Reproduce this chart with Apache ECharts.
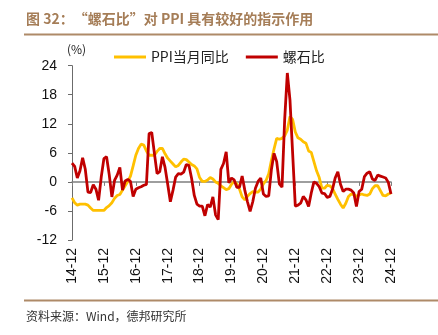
<!DOCTYPE html>
<html><head><meta charset="utf-8">
<script src="https://cdn.jsdelivr.net/npm/echarts@6/dist/echarts.min.js"></script>
<style>html,body{margin:0;padding:0;background:#fff}#c{width:438px;height:335px}</style>
</head><body><div id="c"></div>
<script>
// ---- data ----
var startYear = 2014, startMonth = 12, monthCount = 121;
var categories = [];
(function(){ var y = startYear, m = startMonth; for (var i = 0; i < monthCount; i++) { categories.push(String(y % 100).padStart(2,'0') + '-' + String(m).padStart(2,'0')); m++; if (m > 12) { m = 1; y++; } } })();

var ppiYoY = [
  -3.3,
  -4.3,-4.8,-4.6,-4.6,-4.6,-4.8,-5.4,-5.9,-5.9,-5.9,-5.9,-5.9,
  -5.3,-4.9,-4.3,-3.4,-2.8,-2.6,-1.7,-0.8,0.1,1.2,3.3,5.5,
  6.9,7.8,7.6,6.4,5.5,5.5,5.5,6.3,6.9,6.9,5.8,4.9,
  4.3,3.7,3.1,3.4,4.1,4.7,4.6,4.1,3.6,3.3,2.7,0.9,
  0.1,0.1,0.4,0.9,0.6,0.0,-0.3,-0.8,-1.2,-1.6,-1.4,-0.5,
  0.1,-0.4,-1.5,-3.1,-3.7,-3.0,-2.4,-2.0,-2.1,-2.1,-1.5,-0.4,
  0.3,1.7,4.4,6.8,9.0,8.8,9.0,9.5,10.7,13.5,12.9,10.3,
  9.1,8.8,8.3,8.0,6.4,6.1,4.2,2.3,0.9,-1.3,-1.3,-0.7,
  -0.8,-1.4,-2.5,-3.6,-4.6,-5.4,-4.4,-3.0,-2.5,-2.6,-3.0,-2.7,
  -2.5,-2.7,-2.8,-2.5,-1.4,-0.8,-0.8,-1.8,-2.8,-2.9,-2.5,-2.3
];
var rebarOreRatio = [
  3.9,
  3.2,0.8,2.3,5.0,2.6,-2.1,-2.2,-0.6,-1.5,-3.8,1.0,4.8,
  5.2,1.5,-3.1,0.3,1.4,3.0,-1.7,0.2,0.5,0.1,-3.0,-1.5,
  -1.2,-1.0,-0.7,-0.5,10.0,10.2,5.9,1.7,2.1,5.2,3.0,-0.5,
  -4.1,-1.7,1.0,1.7,1.6,2.0,3.6,3.4,0.7,-2.8,-4.6,-5.0,
  -5.0,-7.0,-4.7,-5.2,-3.1,-6.8,-7.8,2.6,3.8,6.2,-0.2,0.8,
  0.4,-1.1,-1.1,1.2,-1.7,-4.1,-6.1,-4.1,-1.3,0.1,0.8,-2.5,
  -3.0,-2.9,2.5,5.9,4.2,-0.4,-1.1,12.8,22.5,16.9,5.9,-5.0,
  -4.8,-4.4,-3.0,-3.7,-5.1,-2.3,0.0,-0.3,-1.0,-2.3,-2.4,-3.2,
  -3.0,-1.5,0.8,2.1,-0.5,-2.0,-1.5,-1.5,-1.7,-2.3,-5.1,-2.0,
  -1.5,1.1,1.8,2.1,0.6,0.3,1.4,1.2,1.0,0.8,-0.1,-2.5
];
var seriesNames = ['PPI当月同比', '螺石比'];
var yMin = -12, yMax = 24, yInterval = 6;
var titleText = '图 32：“螺石比”对 PPI 具有较好的指示作用';
var sourceText = '资料来源：Wind，德邦研究所';
var unitText = '(%)';

// ---- chart ----
var chart = echarts.init(document.getElementById('c'), null, {renderer: 'canvas'});
var latin = 'Liberation Sans, Arial, sans-serif';
var cjk = '"Noto Sans CJK SC", "Liberation Sans", sans-serif';
chart.setOption({
  animation: false,
  backgroundColor: '#fff',
  title: {
    text: titleText, left: 21, top: 7,
    textStyle: {fontSize: 14, fontWeight: 'bold', color: '#a57d57', fontFamily: cjk}
  },
  graphic: [
    {type: 'line', shape: {x1: 24, y1: 34.5, x2: 438, y2: 34.5}, style: {stroke: '#ae8a68', lineWidth: 2}},
    {type: 'line', shape: {x1: 24, y1: 300.5, x2: 438, y2: 300.5}, style: {stroke: '#ae8a68', lineWidth: 2}},
    {type: 'text', left: 26, top: 310, style: {text: sourceText, fill: '#333', font: '12px ' + cjk}},
    {type: 'text', left: 67, top: 43, style: {text: unitText, fill: '#222', font: '12px ' + cjk}}
  ],
  legend: {
    left: 109, top: 45, itemWidth: 32, itemHeight: 3, itemGap: 17, icon: 'rect',
    textStyle: {fontSize: 14, color: '#222', fontFamily: cjk},
    data: seriesNames
  },
  grid: {left: 72, right: 47, top: 65.7, bottom: 95, containLabel: false},
  xAxis: [
    {
      type: 'category', data: categories, boundaryGap: false, position: 'bottom',
      axisLine: {show: false, onZero: false}, axisTick: {show: false},
      axisLabel: {interval: 11, rotate: 90, margin: 8, fontSize: 14, color: '#111', fontFamily: latin}
    },
    {
      type: 'category', data: categories, boundaryGap: false, position: 'bottom',
      axisLine: {show: true, onZero: true, lineStyle: {color: '#7f7f7f', width: 1.5}},
      axisTick: {show: true, interval: 11, length: 4, lineStyle: {color: '#7f7f7f'}},
      axisLabel: {show: false}
    }
  ],
  yAxis: {
    type: 'value', min: yMin, max: yMax, interval: yInterval,
    axisLine: {show: true, lineStyle: {color: '#6b6b6b', width: 1}},
    axisTick: {show: true, length: 4, lineStyle: {color: '#6b6b6b'}},
    axisLabel: {fontSize: 14, color: '#111', margin: 15, fontFamily: latin},
    splitLine: {show: false}
  },
  series: [
    {name: seriesNames[0], type: 'line', data: ppiYoY, xAxisIndex: 0, showSymbol: false, symbol: 'none',
     lineStyle: {color: '#ffc000', width: 2.8}, itemStyle: {color: '#ffc000'}},
    {name: seriesNames[1], type: 'line', data: rebarOreRatio, xAxisIndex: 0, showSymbol: false, symbol: 'none',
     lineStyle: {color: '#c00000', width: 2.8}, itemStyle: {color: '#c00000'}}
  ]
});
</script></body></html>
